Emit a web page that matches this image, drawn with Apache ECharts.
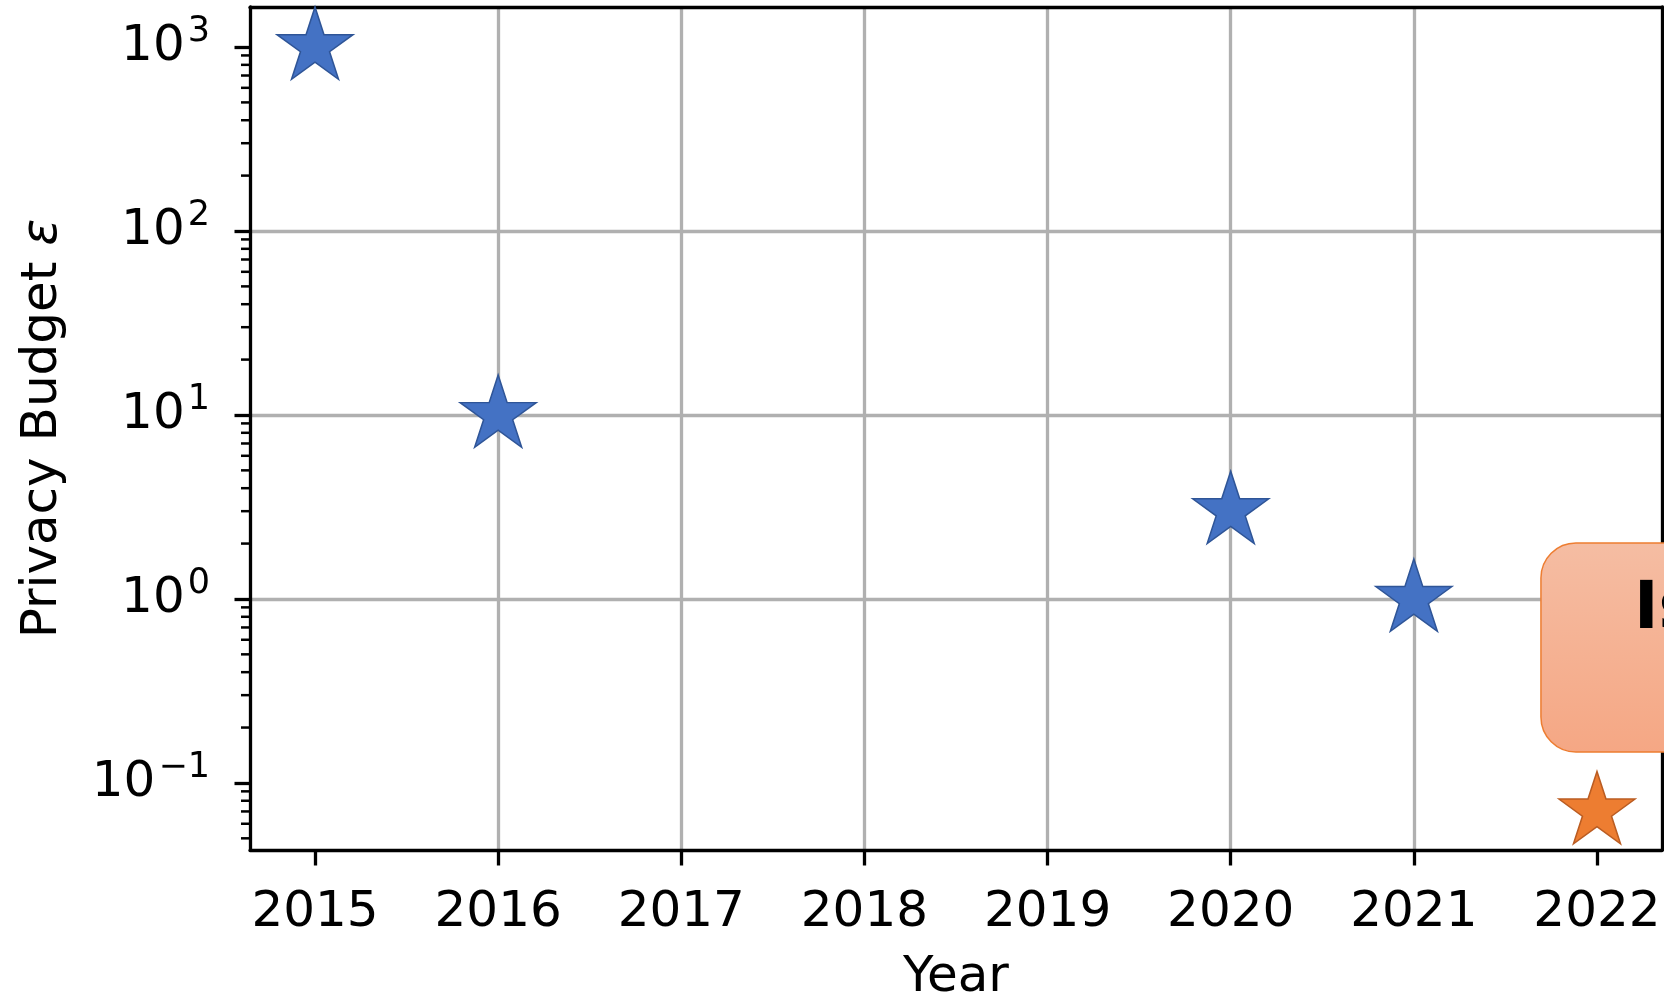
<!DOCTYPE html>
<html><head><meta charset="utf-8">
<script src="https://cdn.jsdelivr.net/npm/echarts@6/dist/echarts.min.js"></script>
<style>html,body{margin:0;padding:0;background:#fff}#c{width:1664px;height:997px}</style>
</head><body><div id="c"></div>
<script>
// ---- data ----
const blueYears = [2015, 2016, 2020, 2021];
const blueEps = [1000, 10, 3, 1];
const orangeYears = [2022];
const orangeEps = [0.07];
const xTickYears = [2015, 2016, 2017, 2018, 2019, 2020, 2021, 2022];
const yTickValues = [0.1, 1, 10, 100, 1000];
const yMinorTicks = [0.05, 0.06, 0.07, 0.08, 0.09,
  0.2, 0.3, 0.4, 0.5, 0.6, 0.7, 0.8, 0.9,
  2, 3, 4, 5, 6, 7, 8, 9,
  20, 30, 40, 50, 60, 70, 80, 90,
  200, 300, 400, 500, 600, 700, 800, 900];
const annotationText = 'Is';

// ---- layout ----
const X_MIN = 2014.645, X_MAX = 2022.355;
const Y_MIN = 0.0432, Y_MAX = 1650;
const FONT = 'DejaVu Sans';
const FS = 50;
const GRID_COLOR = '#b0b0b0';
const LW = 3.3;

function starPath() {
  const pts = [];
  for (let k = 0; k < 10; k++) {
    const ang = Math.PI / 2 + k * Math.PI / 5;
    const r = k % 2 === 0 ? 1 : 0.381966;
    pts.push((r * Math.cos(ang)).toFixed(4) + ',' + (-r * Math.sin(ang)).toFixed(4));
  }
  return 'path://M' + pts.join('L') + 'Z';
}
const R = 40;
const STAR = starPath();
const starSize = [2 * 0.9511 * R, 1.809 * R];
const starOffset = [0, -0.0955 * R];

const chart = echarts.init(document.getElementById('c'), null, { renderer: 'canvas' });

function supFmt(v) {
  const e = Math.round(Math.log10(v));
  return '{b|10}{s|' + (e < 0 ? '\u2212' + (-e) : String(e)) + '}';
}

const option = {
  animation: false,
  backgroundColor: '#fff',
  grid: { left: 250, right: 2, top: 7, bottom: 147, containLabel: false, outerBoundsMode: 'none' },
  xAxis: [{
    type: 'value', min: X_MIN, max: X_MAX, splitNumber: 8, position: 'bottom',
    axisLine: { show: true, onZero: false, lineStyle: { color: '#000', width: LW } },
    axisTick: { show: true, length: 15.5, customValues: xTickYears, lineStyle: { color: '#000', width: LW } },
    axisLabel: { customValues: xTickYears, fontSize: FS, fontFamily: FONT, color: '#000', margin: 38,
      formatter: v => String(Math.round(v)) },
    splitLine: { show: true, showMinLine: false, showMaxLine: false, lineStyle: { color: GRID_COLOR, width: LW } },
    name: 'Year', nameLocation: 'middle', nameGap: 103,
    nameTextStyle: { fontSize: FS, fontFamily: FONT, color: '#000' }
  }, {
    type: 'value', min: X_MIN, max: X_MAX, position: 'top',
    axisLine: { show: true, onZero: false, lineStyle: { color: '#000', width: LW } },
    axisTick: { show: false }, axisLabel: { show: false }, splitLine: { show: false }
  }],
  yAxis: [{
    type: 'log', logBase: 10, min: Y_MIN, max: Y_MAX, position: 'left',
    axisLine: { show: true, onZero: false, lineStyle: { color: '#000', width: LW } },
    axisTick: { show: true, length: 15.5, customValues: yTickValues, lineStyle: { color: '#000', width: LW } },
    axisLabel: { customValues: yTickValues, margin: 40, formatter: supFmt, color: '#000',
      rich: {
        b: { fontSize: FS, fontFamily: FONT, color: '#000', lineHeight: 80 },
        s: { fontSize: 35, fontFamily: FONT, color: '#000', lineHeight: 40,
             verticalAlign: 'bottom', padding: [0, 0, 37.5, 3] }
      } },
    splitLine: { show: true, showMinLine: false, showMaxLine: false, lineStyle: { color: GRID_COLOR, width: LW } },
    minorTick: { show: false },
    name: 'Privacy Budget {e|\u03b5}', nameLocation: 'middle', nameGap: 182, nameRotate: 90,
    nameTextStyle: { fontSize: FS, fontFamily: FONT, color: '#000',
      rich: { e: { fontSize: FS, fontFamily: FONT, fontStyle: 'italic', color: '#000' } } }
  }, {
    type: 'log', logBase: 10, min: Y_MIN, max: Y_MAX, position: 'right',
    axisLine: { show: true, onZero: false, lineStyle: { color: '#000', width: LW } },
    axisTick: { show: false }, axisLabel: { show: false }, splitLine: { show: false }
  }],
  series: [{
    type: 'custom', silent: true, clip: false, z: 3,
    xAxisIndex: 0, yAxisIndex: 0,
    data: yMinorTicks.map(v => [X_MIN, v]),
    renderItem: function (params, api) {
      const p = api.coord([api.value(0), api.value(1)]);
      return { type: 'line', shape: { x1: p[0] - 9, y1: p[1], x2: p[0], y2: p[1] },
        style: { stroke: '#000', lineWidth: 2.5 } };
    }
  }, {
    type: 'scatter', clip: false, z: 5,
    data: blueYears.map((y, i) => [y, blueEps[i]]),
    symbol: STAR, symbolSize: starSize, symbolOffset: starOffset,
    itemStyle: { color: '#4472C4', borderColor: '#2F5597', borderWidth: 1.5, opacity: 1 }
  }, {
    type: 'scatter', clip: false, z: 5,
    data: orangeYears.map((y, i) => [y, orangeEps[i]]),
    symbol: STAR, symbolSize: starSize, symbolOffset: starOffset,
    itemStyle: { color: '#ED7D31', borderColor: '#BA5C22', borderWidth: 1.5, opacity: 1 }
  }]
};
chart.setOption(option);

// annotation box anchored in data coordinates
const pTL = chart.convertToPixel({ xAxisIndex: 0, yAxisIndex: 0 }, [2021.694, 2.015]);
const pBR = chart.convertToPixel({ xAxisIndex: 0, yAxisIndex: 0 }, [2023.2, 0.1474]);
const pTxt = chart.convertToPixel({ xAxisIndex: 0, yAxisIndex: 0 }, [2022.202, 0.866]);
chart.setOption({
  graphic: [{
    type: 'rect', z: 100,
    shape: { x: pTL[0], y: pTL[1], width: pBR[0] - pTL[0], height: pBR[1] - pTL[1], r: 35 },
    style: {
      fill: new echarts.graphic.LinearGradient(0, 0, 0, 1, [
        { offset: 0, color: '#F5BDA3' }, { offset: 1, color: '#F5A784' }
      ]),
      stroke: '#ED7D31', lineWidth: 1.5
    }
  }, {
    type: 'text', z: 101,
    x: pTxt[0], y: pTxt[1],
    style: { text: annotationText, font: 'bold 66px "DejaVu Sans"', fill: '#000', align: 'left', verticalAlign: 'middle' }
  }]
});
</script></body></html>
